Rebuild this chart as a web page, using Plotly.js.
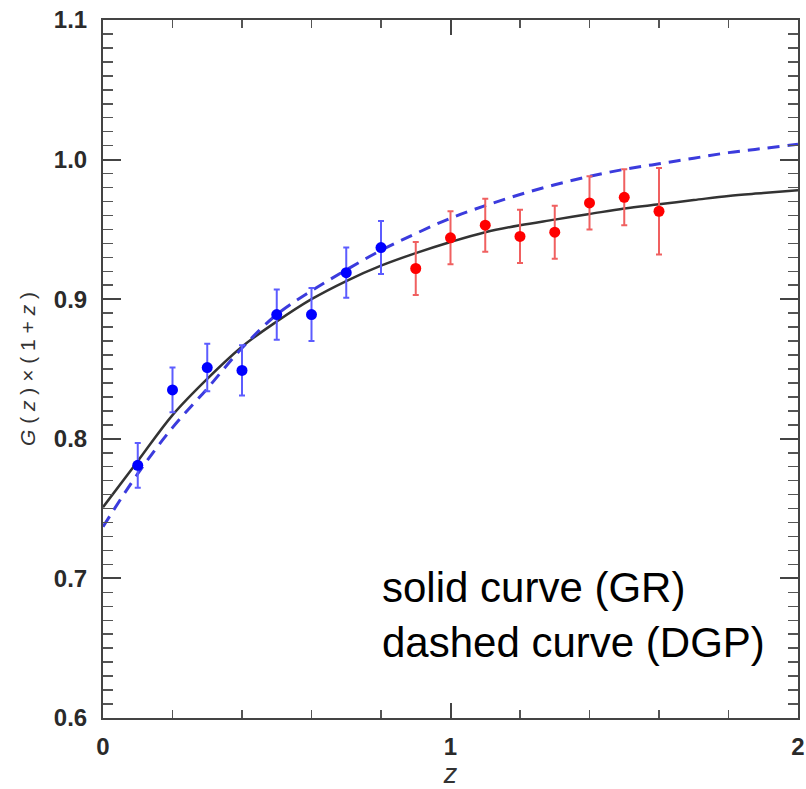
<!DOCTYPE html>
<html>
<head>
<meta charset="utf-8">
<script src="https://cdn.plot.ly/plotly-3.0.1.min.js"></script>
<style>html,body{margin:0;padding:0;background:#fff;}#chart{width:806px;height:789px;}</style>
</head>
<body>
<div id="chart"></div>
<script>
// Theory curves
var zCurve = [0.0,0.1,0.2,0.3,0.4,0.5,0.6,0.7,0.8,0.9,1.0,1.1,1.2,1.3,1.4,1.5,1.6,1.7,1.8,1.9,2.0];
var grCurve = [0.751,0.784,0.817,0.843,0.866,0.884,0.900,0.913,0.924,0.933,0.941,0.948,0.953,0.957,0.961,0.965,0.968,0.971,0.974,0.976,0.978];
var dgpCurve = [0.737,0.775,0.808,0.836,0.865,0.889,0.906,0.921,0.935,0.947,0.958,0.967,0.975,0.982,0.988,0.993,0.997,1.001,1.005,1.008,1.011];

// Data points
var blueZ = [0.1,0.2,0.3,0.4,0.5,0.6,0.7,0.8];
var blueG = [0.781,0.835,0.851,0.849,0.889,0.889,0.919,0.937];
var blueErr = [0.016,0.016,0.017,0.018,0.018,0.019,0.018,0.019];

var redZ = [0.9,1.0,1.1,1.2,1.3,1.4,1.5,1.6];
var redG = [0.922,0.944,0.953,0.945,0.948,0.969,0.973,0.963];
var redErr = [0.019,0.019,0.019,0.019,0.019,0.019,0.020,0.031];

var yTicks = [0.6,0.7,0.8,0.9,1.0,1.1];
var xTicks = [0,1,2];

var traces = [
  {x: zCurve, y: grCurve, type: 'scatter', mode: 'lines', name: 'GR',
   line: {color: '#333333', width: 2.5, shape: 'spline'}, hoverinfo: 'skip'},
  {x: zCurve, y: dgpCurve, type: 'scatter', mode: 'lines', name: 'DGP',
   line: {color: '#3b3bdd', width: 3, dash: '12px,8px', shape: 'spline'}, hoverinfo: 'skip'},
  {x: blueZ, y: blueG, type: 'scatter', mode: 'markers', name: 'blue data',
   marker: {color: '#0000ff', size: 11},
   error_y: {type: 'data', array: blueErr, visible: true, color: '#5c5cff', thickness: 2, width: 3}},
  {x: redZ, y: redG, type: 'scatter', mode: 'markers', name: 'red data',
   marker: {color: '#ff0000', size: 11},
   error_y: {type: 'data', array: redErr, visible: true, color: '#f06060', thickness: 2, width: 3}}
];

var tickFont = {family: '"Liberation Sans", Arial, sans-serif', size: 24, color: '#2a2a2a', weight: 'bold'};

var layout = {
  width: 806, height: 789,
  margin: {l: 103, r: 8, t: 20, b: 71, pad: 0},
  paper_bgcolor: '#ffffff', plot_bgcolor: '#ffffff',
  showlegend: false,
  font: {family: '"Liberation Sans", Arial, sans-serif', color: '#000'},
  xaxis: {
    range: [0, 2], tickvals: xTicks, ticktext: xTicks.map(String),
    showgrid: false, zeroline: false,
    showline: true, linecolor: '#444', linewidth: 2, mirror: 'ticks',
    ticks: 'inside', ticklen: 15, tickwidth: 2, tickcolor: '#444',
    minor: {dtick: 0.2, tick0: 0, ticks: 'inside', ticklen: 8, tickwidth: 1.5, tickcolor: '#555', showgrid: false},
    tickfont: tickFont, ticklabelstandoff: 6, ticklabeloverflow: 'allow',
    title: {text: '<i>z</i>', font: {size: 27, color: '#333', family: '"Liberation Sans", Arial, sans-serif'}, standoff: 2}
  },
  yaxis: {
    range: [0.6, 1.1], tickvals: yTicks, ticktext: yTicks.map(function(v){return v.toFixed(1);}),
    showgrid: false, zeroline: false,
    showline: true, linecolor: '#444', linewidth: 2, mirror: 'ticks',
    ticks: 'inside', ticklen: 18, tickwidth: 2, tickcolor: '#444',
    minor: {dtick: 0.01, tick0: 0.6, ticks: 'inside', ticklen: 10, tickwidth: 1.5, tickcolor: '#555', showgrid: false},
    tickfont: tickFont, ticklabelstandoff: 9,
    title: {text: '<i>G</i> ( <i>z</i> ) × ( 1 + <i>z</i> )', font: {size: 21, color: '#333', family: '"Liberation Sans", Arial, sans-serif'}, standoff: 12}
  },
  annotations: [
    {xref: 'paper', yref: 'paper', x: 0.398, y: 0.072, xanchor: 'left', yanchor: 'bottom',
     align: 'left', showarrow: false,
     text: 'solid curve (GR)<br>dashed curve (DGP)',
     font: {size: 42, color: '#000', family: '"Liberation Sans", Arial, sans-serif'}}
  ]
};

Plotly.newPlot('chart', traces, layout, {displayModeBar: false, staticPlot: true});
</script>
</body>
</html>
